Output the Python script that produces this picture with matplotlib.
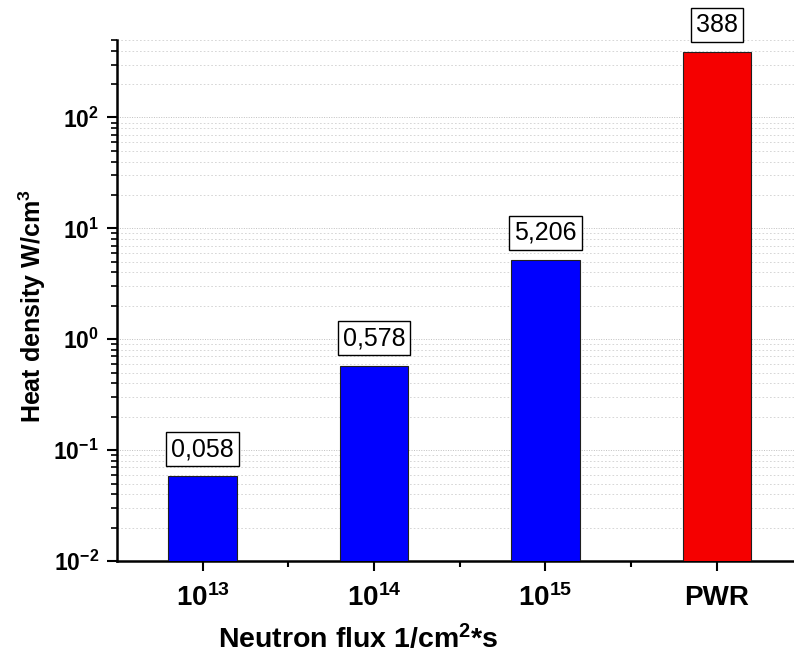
import matplotlib
matplotlib.use("Agg")
import matplotlib.pyplot as plt
from matplotlib.ticker import LogLocator, FixedLocator, NullFormatter

plt.rcParams['font.family'] = ['Liberation Sans', 'DejaVu Sans']
plt.rcParams['mathtext.fontset'] = 'custom'
plt.rcParams['mathtext.rm'] = 'Liberation Sans'
plt.rcParams['mathtext.bf'] = 'Liberation Sans:bold'
plt.rcParams['mathtext.it'] = 'Liberation Sans:italic'

# Data
categories = [r'$\mathbf{10^{13}}$', r'$\mathbf{10^{14}}$', r'$\mathbf{10^{15}}$', 'PWR']
heat_density = [0.058, 0.578, 5.206, 388]
value_labels = ['0,058', '0,578', '5,206', '388']
bar_colors = ['#0000ff', '#0000ff', '#0000ff', '#f50000']
ytick_values = [0.01, 0.1, 1, 10, 100]
ytick_labels = [r'$\mathbf{10^{-2}}$', r'$\mathbf{10^{-1}}$', r'$\mathbf{10^{0}}$',
                r'$\mathbf{10^{1}}$', r'$\mathbf{10^{2}}$']

fig = plt.figure(figsize=(7.94, 6.57), dpi=100)
ax = fig.add_axes([117 / 794, 96 / 657, 1 - 117 / 794, (561 - 40) / 657])

x = list(range(1, len(categories) + 1))
ax.bar(x, heat_density, width=0.4, color=bar_colors,
       edgecolor='#202020', linewidth=0.8, zorder=3)

for xi, v, lab in zip(x, heat_density, value_labels):
    ax.annotate(lab, (xi, v), xytext=(0, 11), textcoords='offset points',
                ha='center', va='bottom', fontsize=18, zorder=5,
                bbox=dict(boxstyle='square,pad=0.2', fc='white',
                          ec='black', lw=1.0))

ax.set_yscale('log')
ax.set_ylim(0.01, 500)
ax.set_xlim(0.5, 4.45)

ax.yaxis.set_minor_locator(LogLocator(base=10, subs=range(2, 10), numticks=20))
ax.yaxis.set_minor_formatter(NullFormatter())
ax.set_yticks(ytick_values)
ax.set_yticklabels(ytick_labels, fontsize=16.5)

ax.set_xticks(x)
ax.set_xticklabels(categories, fontsize=20, fontweight='bold')
ax.xaxis.set_minor_locator(FixedLocator([1.5, 2.5, 3.5]))

ax.tick_params(axis='y', which='major', direction='out', length=7, width=1.5, pad=6)
ax.tick_params(axis='y', which='minor', direction='out', length=4, width=1.2)
ax.tick_params(axis='x', which='major', direction='out', length=7, width=1.5, pad=10)
ax.tick_params(axis='x', which='minor', direction='out', length=4, width=1.5)

ax.grid(True, which='major', axis='y', linestyle=(0, (1, 1.5)), color='#c0c0c0', lw=0.7, zorder=0)
ax.grid(True, which='minor', axis='y', linestyle=(0, (2, 2.5)), color='#d0d0d0', lw=0.6, zorder=0)

for side in ('top', 'right'):
    ax.spines[side].set_visible(False)
for side in ('left', 'bottom'):
    ax.spines[side].set_linewidth(1.8)

ax.set_xlabel(r'Neutron flux 1/cm$\mathbf{^{2}}$*s', fontsize=20.5, fontweight='bold')
ax.set_ylabel(r'Heat density W/cm$\mathbf{^{3}}$', fontsize=18, fontweight='bold')
ax.xaxis.set_label_coords(0.357, -0.121)
ax.yaxis.set_label_coords(-0.102, 0.489)

fig.savefig('out.png', dpi=100)
